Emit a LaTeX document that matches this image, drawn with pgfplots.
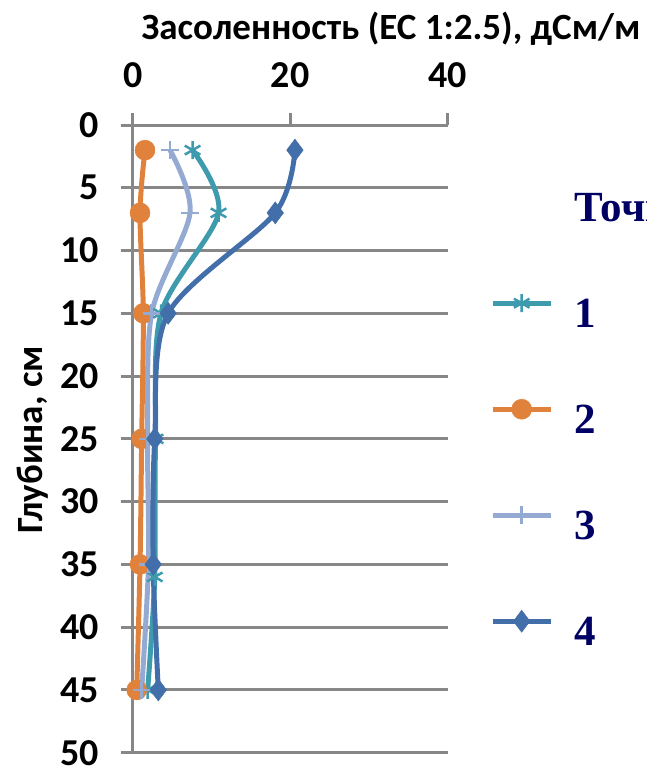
\documentclass[border=0pt]{standalone}
\usepackage{fontspec}
\usepackage{pgfplots}
\pgfplotsset{compat=1.18}
\newfontfamily\carlito{Carlito}
\newfontfamily\lser{Liberation Serif}
\definecolor{cteal}{HTML}{3E9BAE}
\definecolor{corange}{HTML}{E0823C}
\definecolor{clblue}{HTML}{95AAD2}
\definecolor{cdblue}{HTML}{426FAA}
\definecolor{cnavy}{HTML}{000064}
\definecolor{cgray}{HTML}{878787}
\pgfplotsset{legend image code/.code={\draw[mark repeat=2,mark phase=2,#1] plot coordinates {(0pt,0pt) (29pt,0pt) (58pt,0pt)};}}
\begin{document}
\begin{tikzpicture}[x=1pt,y=1pt]
\useasboundingbox (0,0) rectangle (646,768);
\clip (0,0) rectangle (646,768);
\begin{axis}[
  at={(132.7pt,15.3pt)}, anchor=south west,
  scale only axis, width=315pt, height=627.7pt,
  xmin=0, xmax=40, ymin=0, ymax=50, y dir=reverse,
  axis x line*=top, axis y line*=left,
  axis line style={cgray, line width=3pt, -},
  xtick={0,20,40}, ytick={0,5,...,50},
  tick align=outside, major tick length=12pt,
  tick style={cgray, line width=3pt},
  ymajorgrids, grid style={cgray, line width=3pt},
  /pgf/number format/assume math mode=true,
  tick label style={font=\carlito\bfseries\fontsize{38}{38}\selectfont, text=black},
  yticklabel style={xshift=-18pt},
  xticklabel style={yshift=22pt},
  legend cell align=left,
  legend style={at={(axis description cs:1,1)}, anchor=north west, xshift=42.3pt, yshift=-48pt,
    draw=none, fill=none, inner sep=0pt, row sep=58pt,
    font=\lser\bfseries\fontsize{43}{43}\selectfont, text=cnavy,
    nodes={inner sep=0pt, text height=48pt, text depth=0pt},
    /tikz/every odd column/.append style={column sep=21pt}},
  every axis plot/.append style={line width=5pt, smooth, tension=0.5},
]
\addlegendimage{empty legend}
\addlegendentry{Точки}
\addplot[cteal, mark=asterisk, mark size=9pt, mark options={line width=2.5pt}] coordinates {
 (7.6,2) (10.9,7) (3.6,15) (2.9,25) (2.8,36) (1.9,45)};
\addlegendentry{1}
\addplot[corange, mark=*, mark size=10pt, mark options={line width=0.5pt}] coordinates {
 (1.56,2) (0.93,7) (1.35,15) (1.14,25) (0.93,35) (0.51,45)};
\addlegendentry{2}
\addplot[clblue, mark=+, mark size=9pt, mark options={line width=2.5pt}] coordinates {
 (4.74,2) (7.28,7) (2.41,15) (1.9,25) (2.0,35) (1.14,45)};
\addlegendentry{3}
\addplot[cdblue, mark=diamond*, mark size=11pt, mark options={line width=0.5pt}] coordinates {
 (20.6,2) (18.1,7) (4.5,15) (2.8,25) (2.6,35) (3.25,45)};
\addlegendentry{4}
\end{axis}
\node[font=\carlito\bfseries\fontsize{37}{37}\selectfont, anchor=base] at (391,728) {Засоленность (EC 1:2.5), дСм/м};
\node[font=\carlito\bfseries\fontsize{37}{37}\selectfont, rotate=90] at (33,328) {Глубина, см};
\end{tikzpicture}
\end{document}
